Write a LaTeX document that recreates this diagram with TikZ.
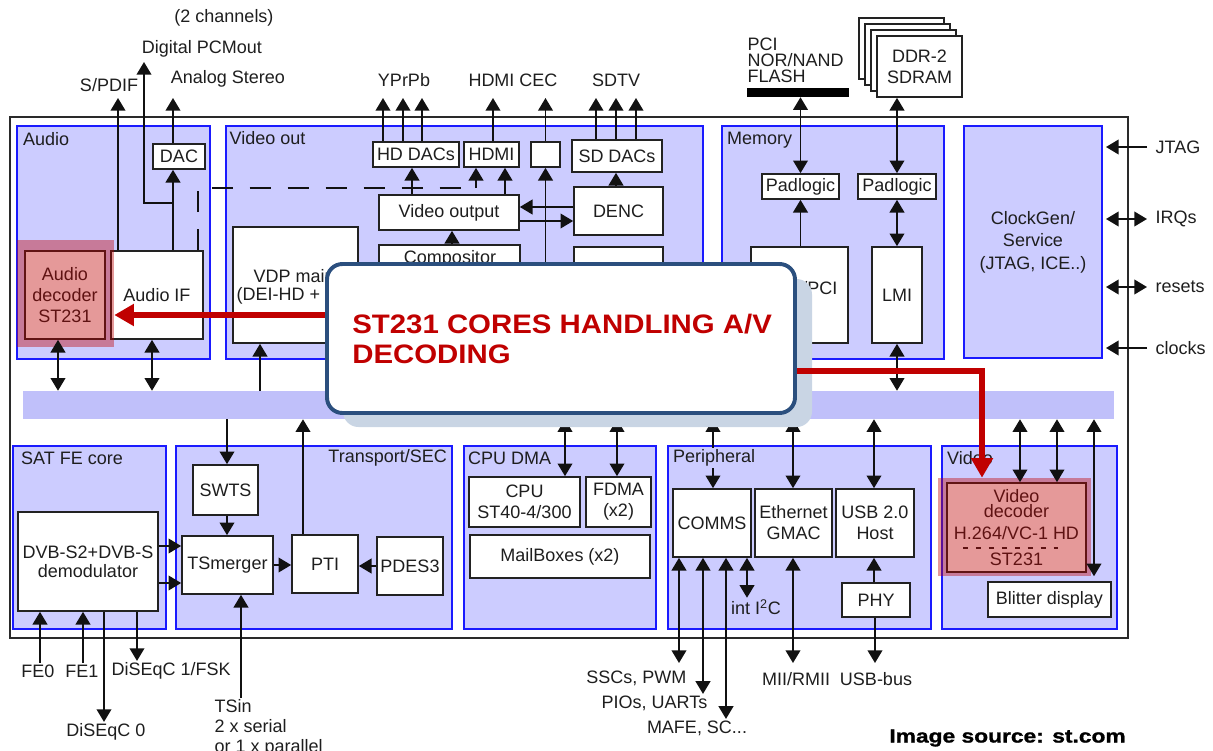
\documentclass[tikz,border=0pt]{standalone}
\usepackage{fontspec}
\setmainfont{Liberation Sans}
\newfontfamily\bannerfont[FakeStretch=1.1]{Liberation Sans}
\newfontfamily\creditfont[FakeStretch=1.2,FakeBold=1.2]{Liberation Sans}
\usepackage{xcolor}
\usepackage{tikz}
\usetikzlibrary{arrows.meta,positioning,calc}
\definecolor{blockfill}{HTML}{CCCCFF}
\definecolor{blockline}{HTML}{1A1AFF}
\definecolor{busfill}{HTML}{C0C0FA}
\definecolor{boxline}{HTML}{222222}
\definecolor{chipline}{HTML}{2A2A2A}
\definecolor{arrowline}{HTML}{111111}
\definecolor{textgray}{HTML}{1E1E1E}
\definecolor{hired}{HTML}{C00000}
\definecolor{calloutline}{HTML}{2B4F7E}
\definecolor{calloutshade}{HTML}{C9D5E4}

\begin{document}
\begin{tikzpicture}[x=0.025cm,y=-0.025cm,font=\fontsize{12.8}{15}\selectfont,
  spans/.style args={#1/#2/#3/#4}{at={({(#1+#3)/2},{(#2+#4)/2})},
    minimum width={(#3-#1)*0.025cm},minimum height={(#4-#2)*0.025cm}},
  chipframe/.style={draw=chipline,line width=1.3pt,inner sep=0pt},
  blk/.style={fill=blockfill,draw=blockline,line width=1pt,inner sep=0pt,align=center,text=textgray},
  busbar/.style={fill=busfill,inner sep=0pt},
  wbox/.style={fill=white,draw=boxline,line width=1.2pt,inner sep=0pt,align=center,text=textgray},
  txt/.style={inner sep=1pt,text=textgray},
  arr/.style={-{Triangle[length=9pt,width=10.5pt]},line width=1.1pt,draw=arrowline},
  dblarr/.style={{Triangle[length=9pt,width=10.5pt]}-{Triangle[length=9pt,width=10.5pt]},line width=1.1pt,draw=arrowline},
  dashline/.style={line width=1.1pt,draw=arrowline,dash pattern=on 15pt off 12pt},
  hilite/.style={fill=hired,fill opacity=0.4,inner sep=0pt},
  shade/.style={fill=calloutshade,rounded corners=11pt,inner sep=0pt},
  callout/.style={fill=white,draw=calloutline,line width=2.8pt,rounded corners=11pt,inner sep=0pt},
  redarr/.style={-{Triangle[length=14pt,width=15pt]},line width=4pt,draw=hired}]
  \useasboundingbox (0,0) rectangle (1213,751);

  % chip outline, function blocks and the bus
  \node[chipframe,spans={10/117/1128/638}] (chip) {};
  \node[blk,spans={17/126/210/359}] (audio) {};
  \node[blk,spans={226/126/703/359}] (vidout) {};
  \node[blk,spans={722/126/944/359}] (memory) {};
  \node[blk,spans={964/126/1102/358}] (clkgen) {ClockGen/\\[1pt]Service\\[1pt](JTAG, ICE..)};
  \node[busbar,spans={23/391/1114/419}] (bus) {};
  \node[blk,spans={13/446/166/629}] (satfe) {};
  \node[blk,spans={176/446/452/629}] (tsport) {};
  \node[blk,spans={464/446/656/629}] (cpudma) {};
  \node[blk,spans={668/446/931/629}] (periph) {};
  \node[blk,spans={942/446/1117/629}] (video) {};

  \node[txt,anchor=west] (audiottl) at (21.5,139) {Audio};
  \node[txt,anchor=west] (vidoutttl) at (228,138) {Video out};
  \node[txt,anchor=west] (memttl) at (725.5,140) {Memory};
  \node[txt,anchor=west] (satttl) at (19.5,458) {SAT FE core};
  \node[txt,anchor=east] (tsttl) at (448.5,458) {Transport/SEC};
  \node[txt,anchor=west] (cputtl) at (466.5,458) {CPU DMA};
  \node[txt,anchor=west] (vidttl) at (945.5,458) {Video};

  % audio
  \node[wbox,spans={153/144/205/169}] (dac) {DAC};
  \node[wbox,spans={25/251/105/339}] (adec) {Audio\\decoder\\ST231};
  \node[wbox,spans={111/251/203/339}] (aif) {Audio IF};

  % video out
  \node[wbox,spans={373/142/459/167}] (hddac) {HD DACs};
  \node[wbox,spans={464/142/519/167}] (hdmi) {HDMI};
  \node[wbox,spans={531/142/560/167}] (cec) {};
  \node[wbox,spans={572/140/662/172}] (sddac) {SD DACs};
  \node[wbox,spans={379/195/519/230}] (vout) {Video output};
  \node[wbox,spans={574/187/663/235}] (denc) {DENC};
  \node[wbox,spans={379/245/520/330}] (comp) {};
  \node[txt] (comptxt) at (450,259) {Compositor};
  \node[wbox,spans={574/247/663/330}] (vdpaux) {};
  \node[wbox,spans={233/227/358/343}] (vdp) {};
  \node[txt,anchor=west] (vdptxt) at (252,276) {VDP main};
  \node[txt,anchor=west] (deitxt) at (235,296) {(DEI-HD +};

  % memory
  \node[wbox,spans={762/174/839/199}] (pad1) {Padlogic};
  \node[wbox,spans={858/174/936/199}] (pad2) {Padlogic};
  \node[wbox,spans={751/247/848/343}] (emi) {};
  \node[txt,anchor=east] (emitxt) at (839,288) {/PCI};
  \node[wbox,spans={872/247/922/343}] (lmi) {LMI};
  \node[fill=black,inner sep=0pt,spans={747/88/849/97}] (pcibar) {};
  \node[txt,anchor=west,align=left,font=\fontsize{12.8}{11.3}\selectfont] (pcilbl) at (746,60) {PCI\\NOR/NAND\\FLASH};
  \foreach \d in {3,2,1}
    \draw[fill=white,draw=boxline,line width=1.2pt] (877-6*\d,36-6*\d) rectangle (962-6*\d,97-6*\d);
  \node[wbox,spans={877/36/962/97}] (ddr) {DDR-2\\SDRAM};

  % satellite front end, transport
  \node[wbox,spans={18/512/158/611}] (demod) {DVB-S2+DVB-S\\[-1.5pt]demodulator};
  \node[wbox,spans={193/465/258/515}] (swts) {SWTS};
  \node[wbox,spans={182/536/273/594}] (tsm) {TSmerger};
  \node[wbox,spans={292/535/358/593}] (pti) {PTI};
  \node[wbox,spans={377/537/443/595}] (pdes) {PDES3};

  % cpu, peripherals, video
  \node[wbox,spans={469/477/580/527}] (cpu) {CPU\\ST40-4/300};
  \node[wbox,spans={586/477/651/527}] (fdma) {FDMA\\(x2)};
  \node[wbox,spans={470/535/650/578}] (mbox) {MailBoxes (x2)};
  \node[wbox,spans={673/489/751/557}] (comms) {COMMS};
  \node[wbox,spans={755/489/832/557}] (gmac) {Ethernet\\GMAC};
  \node[wbox,spans={836/489/914/557}] (usb) {USB 2.0\\Host};
  \node[wbox,spans={842/583/910/617}] (phy) {PHY};
  \node[wbox,spans={947/483/1086/572}] (vdec) {Video\\[-4.5pt]decoder\\[1pt]H.264/VC-1 HD\\[3.5pt]ST231};
  \draw[draw=textgray,line width=1pt,dash pattern=on 3.5pt off 5.7pt] (963,548) -- (1066,548);
  \node[wbox,spans={988/582/1111/617}] (blit) {Blitter display};

  % outside labels
  \node[txt] (twoch) at (224,18) {(2 channels)};
  \node[txt] (pcmout) at (202,49) {Digital PCMout};
  \node[txt] (spdif) at (109,85) {S/PDIF};
  \node[txt] (astereo) at (228,79) {Analog Stereo};
  \node[txt] (ypbpr) at (404,80) {YPrPb};
  \node[txt] (hdmicec) at (513,80) {HDMI CEC};
  \node[txt] (sdtv) at (616,80) {SDTV};
  \node[txt,anchor=west] (jtag) at (1154,147) {JTAG};
  \node[txt,anchor=west] (irqs) at (1154,219) {IRQs};
  \node[txt,anchor=west] (resets) at (1154,287) {resets};
  \node[txt,anchor=west] (clocks) at (1154,348) {clocks};
  \node[txt] (fe0) at (38,671) {FE0};
  \node[txt] (fe1) at (82,671) {FE1};
  \node[txt,anchor=west] (dsq1) at (110,671) {DiSEqC 1/FSK};
  \node[txt] (dsq0) at (106,732) {DiSEqC 0};
  \node[txt,anchor=north west,align=left,font=\fontsize{12.8}{14}\selectfont] (tsin) at (213,698) {TSin\\2 x serial\\or 1 x parallel};
  \node[txt,anchor=east] (ssc) at (688,678) {SSCs, PWM};
  \node[txt,anchor=east] (pio) at (709,703) {PIOs, UARTs};
  \node[txt] (mafe) at (697,728) {MAFE, SC...};
  \node[txt] (i2c) at (756,607) {int I\textsuperscript{2}C};
  \node[txt] (mii) at (796,679) {MII/RMII};
  \node[txt] (usbbus) at (876,679) {USB-bus};

  % highlighted ST231 cores
  \node[hilite,spans={17/240/114/347}] (adecmark) {};
  \node[hilite,spans={938/478/1091/576}] (vdecmark) {};

  % free ends of the connectors
  \coordinate (outrow) at (0,98);
  \coordinate (pcmjoin) at (173,203);
  \coordinate (pcmtip) at (144,62);
  \coordinate (dashturn) at (476,188);
  \coordinate (pinin) at (1147,0);
  \coordinate (pintip) at (1106,0);
  \coordinate (belowrow) at (0,663);

  % audio connectors
  \draw[arr] (aif.north -| 118,0) -- (outrow -| 118,0);
  \draw[arr] (aif.north -| 173,0) -- (dac.south -| 173,0);
  \draw[arr] (dac.north -| 173,0) -- (outrow -| 173,0);
  \draw[arr] (pcmjoin) -| (pcmtip);
  \draw[dashline] (aif.north -| 198,0) |- (dashturn);
  \draw[arr] (dashturn) -- (hdmi.south -| dashturn);
  \draw[dblarr] (adec.south -| 58,0) -- (bus.north -| 58,0);
  \draw[dblarr] (aif.south -| 152,0) -- (bus.north -| 152,0);

  % video out connectors
  \foreach \x in {383,403,422}
    \draw[arr] (hddac.north -| \x,0) -- (outrow -| \x,0);
  \foreach \x in {596,616,636}
    \draw[arr] (sddac.north -| \x,0) -- (outrow -| \x,0);
  \draw[arr] (hdmi.north -| 493,0) -- (outrow -| 493,0);
  \draw[arr] (cec.north) -- (outrow -| cec.north);
  \draw[arr] (bus.north -| cec.south) -- (cec.south);
  \draw[arr] (vout.north -| 412,0) -- (hddac.south -| 412,0);
  \draw[arr] (vout.north -| 505,0) -- (hdmi.south -| 505,0);
  \draw[arr] (denc.north -| 616,0) -- (sddac.south -| 616,0);
  \draw[arr] (denc.west |- 0,207) -- (vout.east |- 0,207);
  \draw[arr] (vout.east |- 0,221) -- (denc.west |- 0,221);
  \draw[arr] (comp.north -| 452,0) -- (vout.south -| 452,0);
  \draw[arr] (bus.north -| 260,0) -- (vdp.south -| 260,0);

  % memory connectors
  \draw[dblarr] (pcibar.south -| pad1.north) -- (pad1.north);
  \draw[dblarr] (ddr.south -| pad2.north) -- (pad2.north);
  \draw[arr] (emi.north -| pad1.south) -- (pad1.south);
  \draw[dblarr] (pad2.south) -- (lmi.north);
  \draw[dblarr] (lmi.south) -- (bus.north -| lmi.south);

  % pins on the right
  \draw[arr] (jtag -| pinin) -- (jtag -| pintip);
  \draw[dblarr] (irqs -| pinin) -- (irqs -| pintip);
  \draw[dblarr] (resets -| pinin) -- (resets -| pintip);
  \draw[arr] (clocks -| pinin) -- (clocks -| pintip);

  % front end and transport connectors
  \draw[arr] (bus.south -| 227,0) -- (swts.north -| 227,0);
  \draw[arr] (swts.south -| 227,0) -- (tsm.north -| 227,0);
  \draw[arr] (demod.east |- 0,546) -- (tsm.west |- 0,546);
  \draw[arr] (demod.east |- 0,583) -- (tsm.west |- 0,583);
  \draw[arr] (tsm.east) -- (pti.west |- tsm.east);
  \draw[arr] (pdes.west) -- (pti.east |- pdes.west);
  \draw[arr] (pti.north -| 303,0) -- (bus.south -| 303,0);
  \draw[arr] (tsin.north -| 241,0) -- (tsm.south -| 241,0);
  \draw[arr] (fe0.north -| 40,0) -- (demod.south -| 40,0);
  \draw[arr] (fe1.north -| 83,0) -- (demod.south -| 83,0);
  \draw[arr] (demod.south -| 137,0) -- (dsq1.north -| 137,0);
  \draw[arr] (demod.south -| 104,0) -- (dsq0.north -| 104,0);

  % cpu, peripheral and video connectors
  \draw[dblarr] (bus.south -| 565,0) -- (cpu.north -| 565,0);
  \draw[dblarr] (bus.south -| 617,0) -- (fdma.north -| 617,0);
  \draw[dblarr] (bus.south -| 713,0) -- (comms.north -| 713,0);
  \draw[dblarr] (bus.south -| 793,0) -- (gmac.north -| 793,0);
  \draw[dblarr] (bus.south -| 874,0) -- (usb.north -| 874,0);
  \draw[dblarr] (comms.south -| 679,0) -- (belowrow -| 679,0);
  \draw[dblarr] (comms.south -| 703,0) -- (pio.north east -| 703,0);
  \draw[dblarr] (comms.south -| 726,0) -- (mafe.north -| 726,0);
  \draw[dblarr] (comms.south -| 747,0) -- (i2c.north -| 747,0);
  \draw[dblarr] (gmac.south -| 793,0) -- (belowrow -| 793,0);
  \draw[arr] (phy.north -| 874,0) -- (usb.south -| 874,0);
  \draw[arr] (phy.south -| 875,0) -- (belowrow -| 875,0);
  \draw[dblarr] (bus.south -| 1020,0) -- (vdec.north -| 1020,0);
  \draw[dblarr] (bus.south -| 1057,0) -- (vdec.north -| 1057,0);
  \draw[dblarr,shorten >=3.5pt] (bus.south -| 1094,0) -- (blit.north -| 1094,0);
  \node[txt,anchor=west,fill=blockfill] (perttl) at (671.5,458) {Peripheral};

  % callout
  \node[shade,spans={343/279/812/427}] (bannershade) {};
  \draw[redarr] (bannershade.west |- 0,315) -- (adecmark.east |- 0,315);
  \draw[redarr] (bannershade.west |- 0,371) -| (vdecmark.north -| 982,0);
  \node[callout,spans={327/264/795/413}] (banner) {};
  \node[anchor=west,align=left,inner sep=0pt,text=hired,font={\bannerfont\fontsize{19}{21.5}\selectfont\bfseries}] (bannertxt) at (352,339) {ST231 CORES HANDLING A/V\\DECODING};

  \node[anchor=east,inner sep=0pt,text=black,font={\creditfont\fontsize{13.5}{16}\selectfont\bfseries}] (credit) at (1126,738) {Image source: st.com};
\end{tikzpicture}
\end{document}
